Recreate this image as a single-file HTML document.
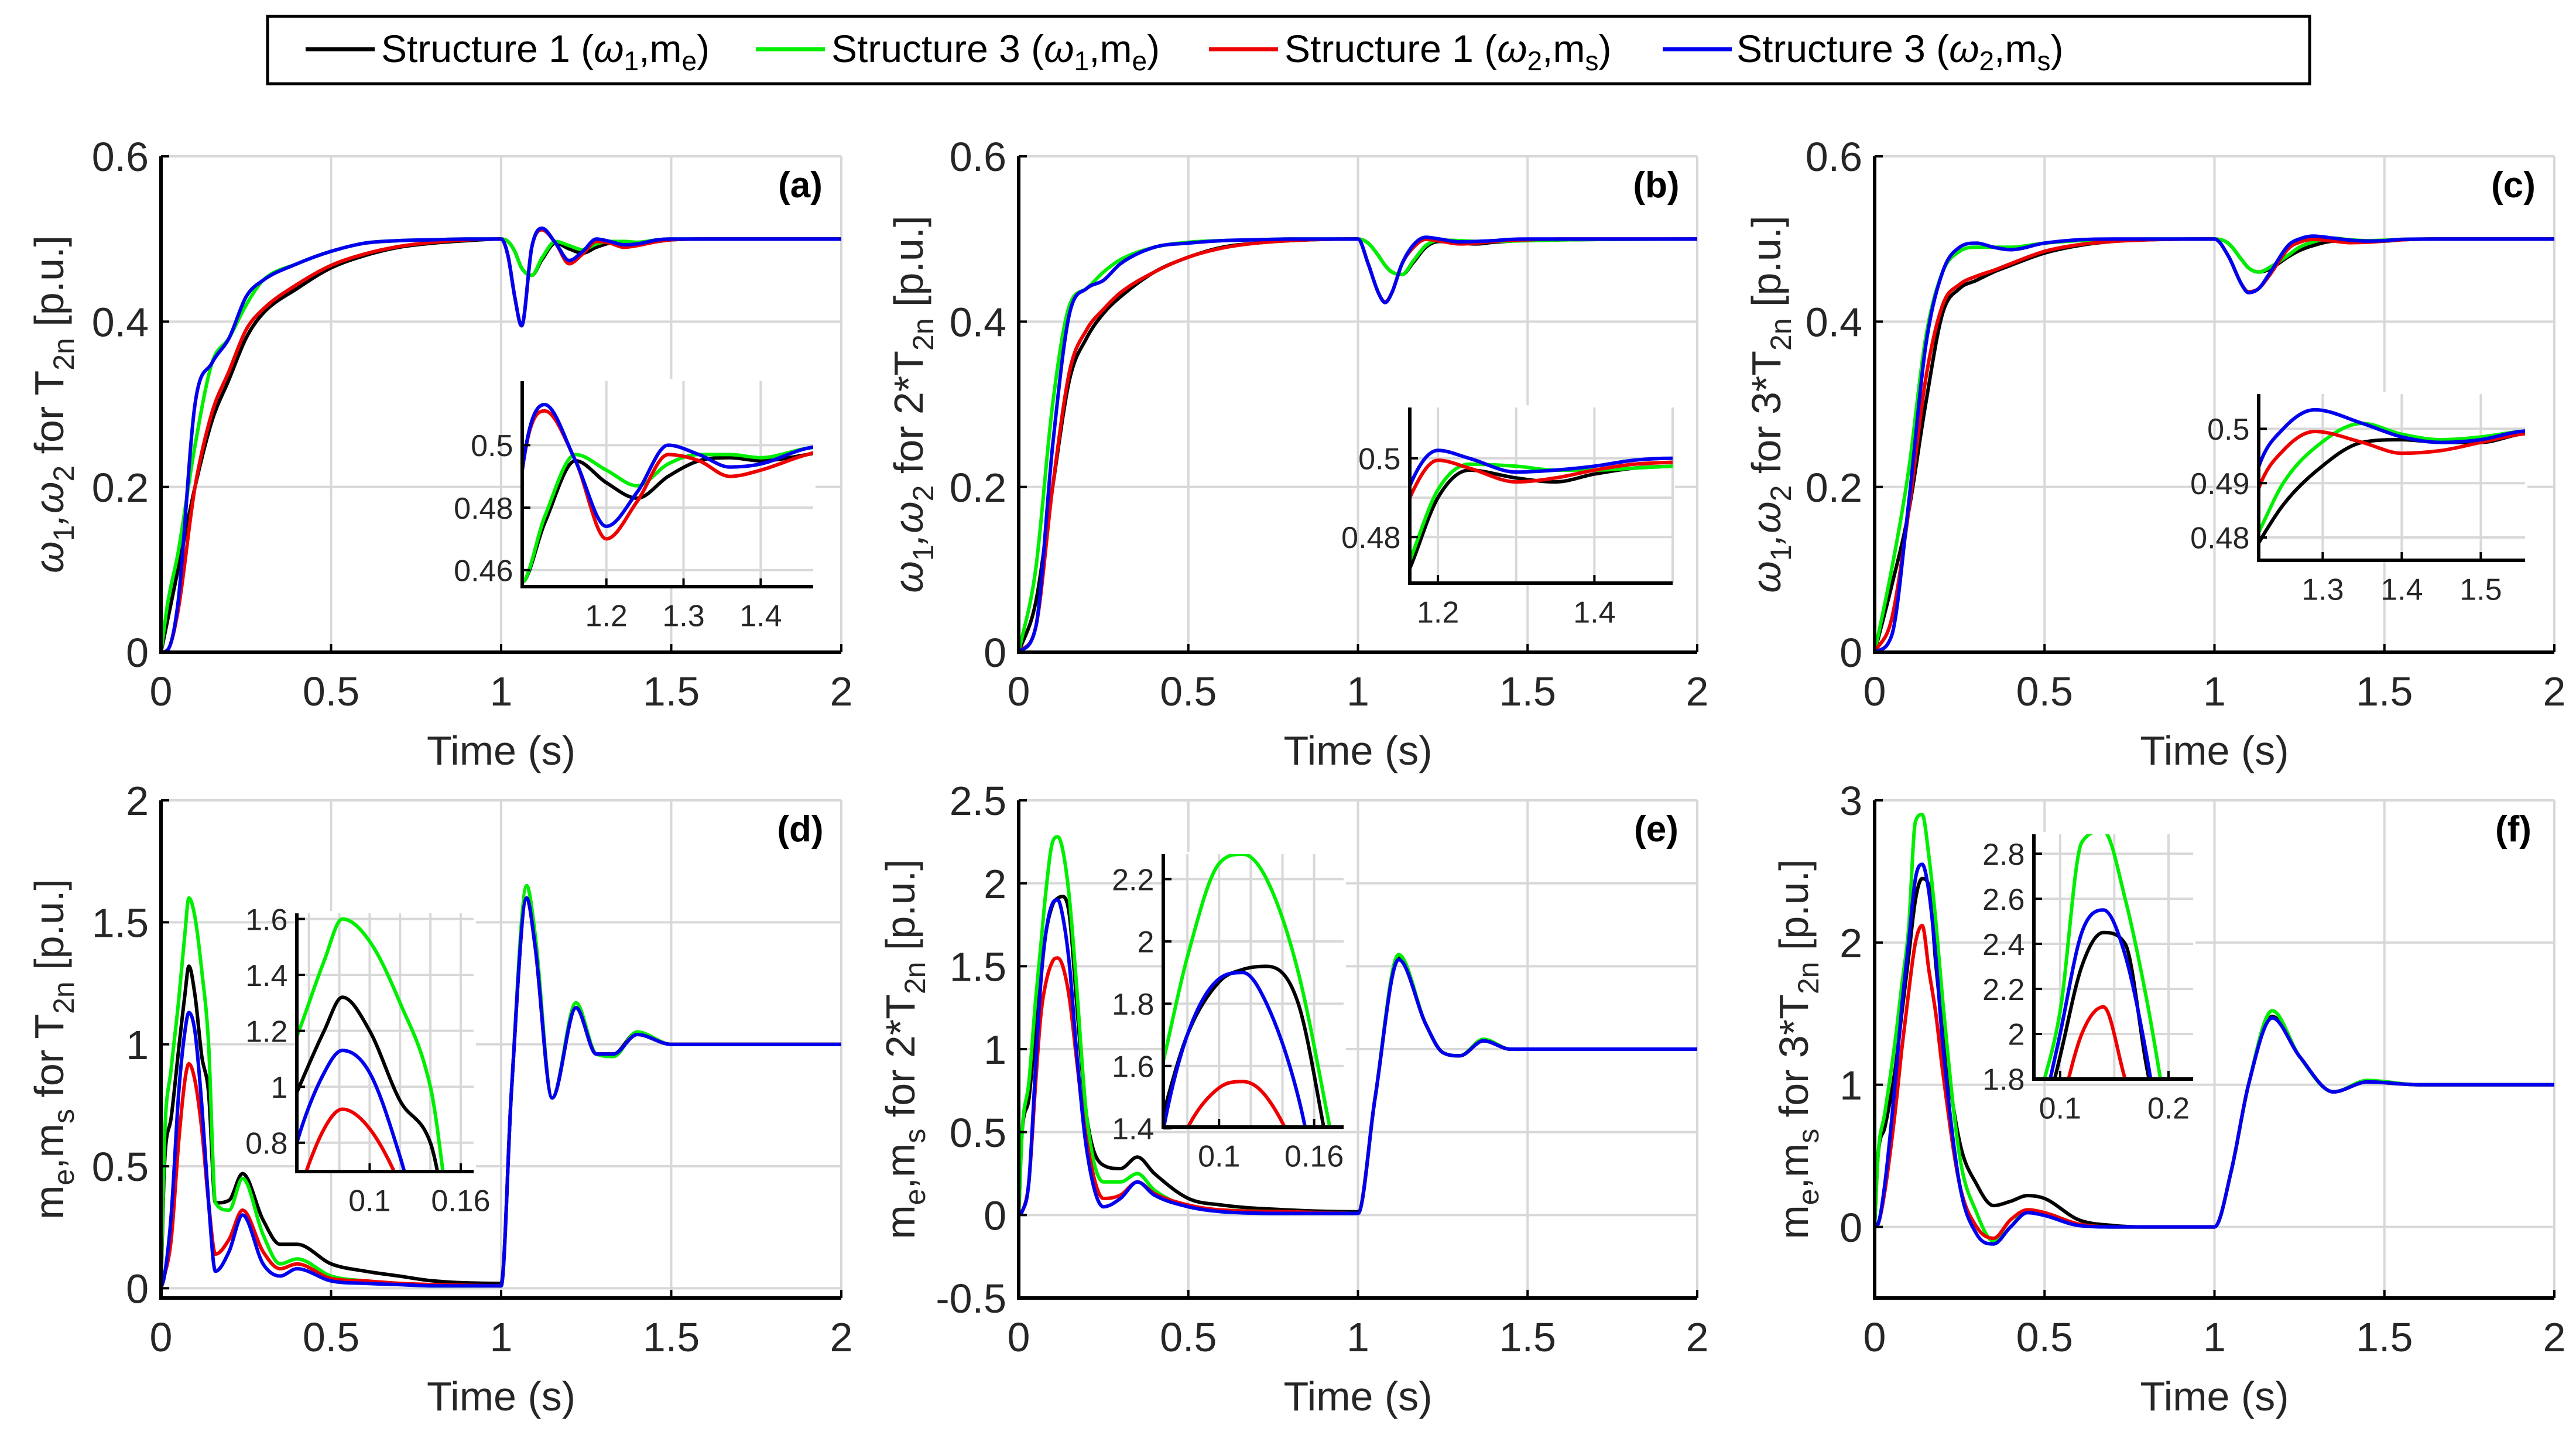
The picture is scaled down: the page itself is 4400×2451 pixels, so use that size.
<!DOCTYPE html>
<html><head><meta charset="utf-8"><style>
html,body{margin:0;padding:0;background:#fff;overflow:hidden;width:4400px;height:2451px;}
svg{display:block;font-family:"Liberation Sans",Arial,sans-serif;}
</style></head><body>
<svg id="fig" width="4400" height="2451" viewBox="0 0 4400 2451" overflow="hidden">
<g>
<rect x="457" y="28" width="3488" height="115" fill="#fff" stroke="#000" stroke-width="5"/>
<g><line x1="522" y1="84" x2="640" y2="84" stroke="#000" stroke-width="7"/><text x="651" y="106" font-size="66">Structure 1 (<tspan font-style="italic">ω</tspan><tspan font-size="46" dy="14">1</tspan><tspan dy="-14">,m</tspan><tspan font-size="46" dy="14">e</tspan><tspan dy="-14">)</tspan></text></g>
<g><line x1="1291" y1="84" x2="1409" y2="84" stroke="#00ee00" stroke-width="7"/><text x="1420" y="106" font-size="66">Structure 3 (<tspan font-style="italic">ω</tspan><tspan font-size="46" dy="14">1</tspan><tspan dy="-14">,m</tspan><tspan font-size="46" dy="14">e</tspan><tspan dy="-14">)</tspan></text></g>
<g><line x1="2065" y1="84" x2="2183" y2="84" stroke="#ee0000" stroke-width="7"/><text x="2194" y="106" font-size="66">Structure 1 (<tspan font-style="italic">ω</tspan><tspan font-size="46" dy="14">2</tspan><tspan dy="-14">,m</tspan><tspan font-size="46" dy="14">s</tspan><tspan dy="-14">)</tspan></text></g>
<g><line x1="2840" y1="84" x2="2958" y2="84" stroke="#0000ee" stroke-width="7"/><text x="2966" y="106" font-size="66">Structure 3 (<tspan font-style="italic">ω</tspan><tspan font-size="46" dy="14">2</tspan><tspan dy="-14">,m</tspan><tspan font-size="46" dy="14">s</tspan><tspan dy="-14">)</tspan></text></g>
</g>
</svg>
<script>
// ---- Panel (a) data ----
const a_t=[0,0.02,0.05,0.1,0.15,0.2,0.25,0.3,0.4,0.5,0.6,0.7,0.8,0.9,1.0,1.02,1.04,1.06,1.09,1.12,1.16,1.2,1.24,1.28,1.32,1.36,1.4,1.46,1.5,1.6,2.0];
const a_k=[0,0.04,0.1,0.2,0.28,0.33,0.38,0.41,0.44,0.465,0.48,0.49,0.495,0.498,0.5,0.497,0.485,0.465,0.456,0.475,0.495,0.488,0.483,0.49,0.495,0.496,0.495,0.497,0.499,0.5,0.5];
const a_g=[0,0.06,0.12,0.25,0.35,0.38,0.42,0.45,0.47,0.485,0.495,0.498,0.499,0.5,0.5,0.497,0.485,0.465,0.456,0.477,0.497,0.492,0.487,0.494,0.497,0.497,0.496,0.499,0.5,0.5,0.5];
const a_r=[0,0.003,0.05,0.2,0.29,0.34,0.39,0.415,0.445,0.468,0.482,0.491,0.496,0.499,0.5,0.48,0.43,0.395,0.49,0.511,0.495,0.47,0.482,0.497,0.495,0.49,0.492,0.497,0.499,0.5,0.5];
const a_b=[0,0.003,0.06,0.3,0.35,0.38,0.43,0.45,0.47,0.485,0.495,0.498,0.499,0.5,0.5,0.48,0.43,0.395,0.49,0.513,0.495,0.474,0.485,0.5,0.497,0.493,0.494,0.499,0.5,0.5,0.5];
// ---- Panel (b) data ----
const b_t=[0,0.05,0.1,0.15,0.2,0.25,0.3,0.4,0.5,0.6,0.7,0.8,1.0,1.03,1.06,1.08,1.1,1.13,1.164,1.2,1.24,1.3,1.35,1.4,1.45,1.5,1.6,2.0];
const b_k=[0,0.06,0.2,0.33,0.38,0.41,0.43,0.46,0.478,0.49,0.495,0.498,0.5,0.495,0.48,0.468,0.46,0.457,0.472,0.49,0.497,0.495,0.494,0.496,0.4975,0.498,0.499,0.5];
const b_g=[0,0.1,0.3,0.42,0.44,0.46,0.475,0.49,0.496,0.498,0.499,0.5,0.5,0.495,0.48,0.468,0.46,0.457,0.474,0.492,0.4985,0.498,0.497,0.497,0.4975,0.498,0.499,0.5];
const b_r=[0,0.03,0.2,0.34,0.39,0.415,0.435,0.46,0.478,0.489,0.495,0.498,0.5,0.47,0.435,0.424,0.435,0.47,0.49,0.4995,0.4975,0.494,0.495,0.497,0.4985,0.499,0.5,0.5];
const b_b=[0,0.03,0.25,0.41,0.44,0.45,0.47,0.49,0.495,0.498,0.499,0.5,0.5,0.47,0.435,0.423,0.435,0.47,0.493,0.502,0.5,0.4965,0.497,0.498,0.4995,0.5,0.5,0.5];
// ---- Panel (c) data ----
const c_t=[0,0.05,0.1,0.15,0.2,0.25,0.3,0.35,0.4,0.5,0.6,0.7,0.8,1.0,1.04,1.08,1.1,1.13,1.16,1.219,1.25,1.29,1.35,1.4,1.45,1.5,1.55,1.65,2.0];
const c_k=[0,0.08,0.17,0.3,0.41,0.44,0.45,0.46,0.468,0.483,0.492,0.497,0.499,0.5,0.495,0.475,0.465,0.46,0.463,0.479,0.486,0.492,0.4975,0.498,0.4975,0.4975,0.499,0.5,0.5];
const c_g=[0,0.1,0.22,0.38,0.46,0.485,0.49,0.49,0.49,0.495,0.498,0.499,0.5,0.5,0.495,0.475,0.465,0.46,0.465,0.481,0.49,0.4965,0.501,0.499,0.498,0.4985,0.4995,0.5,0.5];
const c_r=[0,0.04,0.17,0.33,0.42,0.445,0.455,0.462,0.47,0.485,0.493,0.497,0.499,0.5,0.48,0.445,0.436,0.44,0.455,0.489,0.496,0.4995,0.4975,0.4955,0.496,0.4975,0.499,0.5,0.5];
const c_b=[0,0.02,0.18,0.37,0.46,0.49,0.495,0.49,0.487,0.495,0.499,0.5,0.5,0.5,0.48,0.445,0.435,0.44,0.457,0.493,0.5,0.5035,0.501,0.4985,0.4975,0.498,0.4995,0.5,0.5];
// ---- Panel (d) data ----
const d_t=[0,0.01,0.03,0.052,0.07,0.082,0.1,0.12,0.14,0.16,0.2,0.24,0.3,0.35,0.4,0.5,0.6,0.7,0.8,1.0,1.03,1.075,1.1,1.15,1.22,1.28,1.33,1.4,1.5,2.0];
const d_k=[0,0.5,0.7,0.98,1.2,1.32,1.2,0.95,0.8,0.35,0.36,0.47,0.28,0.18,0.18,0.1,0.07,0.05,0.03,0.02,0.8,1.6,1.4,0.78,1.15,0.96,0.96,1.05,1.0,1.0];
const d_g=[0,0.6,0.9,1.18,1.45,1.6,1.52,1.3,1.0,0.35,0.32,0.45,0.22,0.1,0.12,0.05,0.03,0.02,0.01,0.01,0.8,1.65,1.45,0.78,1.17,0.96,0.95,1.05,1.0,1.0];
const d_r=[0,0.05,0.2,0.6,0.85,0.92,0.85,0.65,0.35,0.14,0.2,0.32,0.15,0.08,0.1,0.04,0.03,0.02,0.015,0.01,0.8,1.6,1.4,0.78,1.15,0.96,0.96,1.04,1.0,1.0];
const d_b=[0,0.05,0.3,0.8,1.05,1.13,1.05,0.75,0.35,0.07,0.15,0.3,0.1,0.05,0.08,0.03,0.02,0.015,0.01,0.01,0.8,1.6,1.4,0.78,1.15,0.96,0.96,1.04,1.0,1.0];
// ---- Panel (e) data ----
const e_t=[0,0.01,0.03,0.05,0.065,0.08,0.1,0.115,0.13,0.15,0.17,0.2,0.25,0.3,0.35,0.4,0.5,0.6,0.8,1.0,1.05,1.12,1.2,1.25,1.3,1.37,1.45,2.0];
const e_k=[0,0.5,0.7,1.15,1.45,1.7,1.87,1.91,1.92,1.8,1.3,0.6,0.3,0.28,0.35,0.25,0.1,0.06,0.03,0.02,0.7,1.55,1.15,0.98,0.96,1.05,1.0,1.0];
const e_g=[0,0.5,0.8,1.3,1.62,1.95,2.25,2.28,2.2,1.9,1.4,0.6,0.2,0.2,0.25,0.15,0.05,0.03,0.02,0.01,0.7,1.57,1.15,0.98,0.96,1.06,1.0,1.0];
const e_r=[0,0.02,0.2,0.8,1.2,1.4,1.53,1.55,1.5,1.3,0.95,0.45,0.1,0.12,0.2,0.13,0.06,0.03,0.02,0.01,0.7,1.54,1.15,0.98,0.96,1.05,1.0,1.0];
const e_b=[0,0.02,0.2,0.9,1.4,1.7,1.88,1.9,1.8,1.5,1.0,0.4,0.05,0.1,0.2,0.12,0.05,0.02,0.01,0.01,0.7,1.54,1.15,0.98,0.96,1.05,1.0,1.0];
// ---- Panel (f) data ----
const f_t=[0,0.01,0.03,0.06,0.08,0.1,0.12,0.14,0.16,0.18,0.2,0.25,0.3,0.35,0.4,0.45,0.5,0.6,0.7,0.8,1.0,1.05,1.1,1.17,1.25,1.35,1.45,1.6,2.0];
const f_k=[0,0.5,0.7,1.1,1.5,1.9,2.3,2.45,2.4,1.85,1.4,0.6,0.3,0.15,0.18,0.22,0.2,0.05,0.01,0,0,0.4,1.0,1.48,1.2,0.95,1.02,1.0,1.0];
const f_g=[0,0.5,0.8,1.3,1.7,2.1,2.85,2.9,2.6,2.15,1.6,0.5,0.1,-0.1,0.0,0.12,0.1,0.02,0,0,0,0.4,1.0,1.52,1.2,0.95,1.03,1.0,1.0];
const f_r=[0,0.02,0.25,0.8,1.25,1.65,2.0,2.12,1.8,1.5,1.1,0.3,0.0,-0.08,0.05,0.12,0.1,0.02,0,0,0,0.4,1.0,1.47,1.2,0.95,1.02,1.0,1.0];
const f_b=[0,0.02,0.3,1.0,1.55,2.0,2.45,2.55,2.35,1.9,1.3,0.3,-0.05,-0.12,0.0,0.1,0.08,0.01,0,0,0,0.4,1.0,1.47,1.2,0.95,1.02,1.0,1.0];
// ---- Tick labels ----
const xTicks=[0,0.5,1,1.5,2];
const yTicksTop=[0,0.2,0.4,0.6];
const yTicksD=[0,0.5,1,1.5,2];
const yTicksE=[-0.5,0,0.5,1,1.5,2,2.5];
const yTicksF=[0,1,2,3];

const NS='http://www.w3.org/2000/svg';
const svg=document.getElementById('fig');
const COLORS={k:'#000000',g:'#00ee00',r:'#ee0000',b:'#0000ee'};
const NAMES={k:'structure1-w1',g:'structure3-w1',r:'structure1-w2',b:'structure3-w2'};
function mk(tag,attrs,parent){const e=document.createElementNS(NS,tag);for(const k in attrs)e.setAttribute(k,attrs[k]);(parent||svg).appendChild(e);return e;}
function fmt(v){return String(v);}
function pathD(t,v,sx,sy){
  const X=t.map(sx),Y=v.map(sy),n=X.length;
  const dl=[],m=[];
  for(let i=0;i<n-1;i++)dl.push((Y[i+1]-Y[i])/(X[i+1]-X[i]));
  m[0]=dl[0];m[n-1]=dl[n-2];
  for(let i=1;i<n-1;i++){m[i]=(dl[i-1]*dl[i]<=0)?0:(dl[i-1]+dl[i])/2;}
  for(let i=0;i<n-1;i++){
    if(dl[i]===0){m[i]=0;m[i+1]=0;continue;}
    const a=m[i]/dl[i],b=m[i+1]/dl[i],s=a*a+b*b;
    if(s>9){const tt=3/Math.sqrt(s);m[i]=tt*a*dl[i];m[i+1]=tt*b*dl[i];}
  }
  let d='M'+X[0].toFixed(1)+','+Y[0].toFixed(1);
  for(let i=0;i<n-1;i++){
    const h=(X[i+1]-X[i])/3;
    d+=' C'+(X[i]+h).toFixed(1)+','+(Y[i]+m[i]*h).toFixed(1)+' '+(X[i+1]-h).toFixed(1)+','+(Y[i+1]-m[i+1]*h).toFixed(1)+' '+X[i+1].toFixed(1)+','+Y[i+1].toFixed(1);
  }
  return d;
}
let clipId=0;
function axes(o){
  const g=mk('g',{});
  
  
  const sx=x=>o.x0+(x-o.xmin)/(o.xmax-o.xmin)*(o.x1-o.x0);
  const sy=y=>o.y1-(y-o.ymin)/(o.ymax-o.ymin)*(o.y1-o.y0);
  if(o.bg){const r=mk('rect',{x:o.x0,y:o.y0-4,width:o.x1-o.x0+4,height:o.y1-o.y0+4,fill:'#fff'},g);}
  o.xgrid.forEach(x=>{const l=mk('line',{x1:sx(x),x2:sx(x),y1:o.y0,y2:o.y1,stroke:'#d8d8d8','stroke-width':4},g);});
  o.ygrid.forEach(y=>{const l=mk('line',{x1:o.x0,x2:o.x1,y1:sy(y),y2:sy(y),stroke:'#d8d8d8','stroke-width':4},g);});
  const cid='clip'+(clipId++);
  const cp=mk('clipPath',{id:cid},g);mk('rect',{x:o.x0,y:o.y0,width:o.x1-o.x0,height:o.y1-o.y0},cp);
  ['k','g','r','b'].forEach(s=>{
    const p=mk('path',{d:pathD(o.t,o.series[s],sx,sy),fill:'none',stroke:COLORS[s],'stroke-width':o.lw,'stroke-linejoin':'round','clip-path':'url(#'+cid+')'},g);
    
    
  });
  const ax=mk('path',{d:'M'+o.x0+','+o.y0+' L'+o.x0+','+o.y1+' L'+o.x1+','+o.y1,fill:'none',stroke:'#000','stroke-width':o.aw},g);
  
  
  o.xlab.forEach(x=>{
    mk('line',{x1:sx(x),x2:sx(x),y1:o.y1,y2:o.y1-14,stroke:'#000','stroke-width':4},g);
    const t=mk('text',{x:sx(x),y:o.y1+o.fs*1.3,'font-size':o.fs,'text-anchor':'middle',fill:'#262626'},g);t.textContent=fmt(x);
    
    
  });
  o.ylab.forEach(y=>{
    mk('line',{x1:o.x0,x2:o.x0+14,y1:sy(y),y2:sy(y),stroke:'#000','stroke-width':4},g);
    const t=mk('text',{x:o.x0-o.fs*0.3,y:sy(y)+o.fs*0.36,'font-size':o.fs,'text-anchor':'end',fill:'#262626'},g);t.textContent=fmt(y);
    
    
  });
  return g;
}
const TOP={y0:267,y1:1114},BOT={y0:1367,y1:2217};
const COLS=[{x0:275,x1:1437},{x0:1740,x1:2899},{x0:3202,x1:4363}];
const panels=[
 {id:'a',col:0,row:TOP,t:a_t,s:{k:a_k,g:a_g,r:a_r,b:a_b},ymin:0,ymax:0.6,yt:yTicksTop,lab:['ω','1',',ω','2',' for T','2n',' [p.u.]'],lx:84,
  ins:{x0:892,x1:1389,y0:651,y1:1002,xmin:1.091,xmax:1.468,ymin:0.4547,ymax:0.5205,xg:[1.2,1.3,1.4],xl:[1.2,1.3,1.4],yg:[0.46,0.48,0.5],yl:[0.46,0.48,0.5]}},
 {id:'b',col:1,row:TOP,t:b_t,s:{k:b_k,g:b_g,r:b_r,b:b_b},ymin:0,ymax:0.6,yt:yTicksTop,lab:['ω','1',',ω','2',' for 2*T','2n',' [p.u.]'],lx:1552,
  ins:{x0:2408,x1:2857,y0:696,y1:996,xmin:1.164,xmax:1.5,ymin:0.4683,ymax:0.5129,xg:[1.2,1.3,1.4,1.5],xl:[1.2,1.4],yg:[0.48,0.49,0.5],yl:[0.48,0.5]}},
 {id:'c',col:2,row:TOP,t:c_t,s:{k:c_k,g:c_g,r:c_r,b:c_b},ymin:0,ymax:0.6,yt:yTicksTop,lab:['ω','1',',ω','2',' for 3*T','2n',' [p.u.]'],lx:3017,
  ins:{x0:3858,x1:4313,y0:673,y1:957,xmin:1.219,xmax:1.556,ymin:0.4758,ymax:0.5064,xg:[1.3,1.4,1.5],xl:[1.3,1.4,1.5],yg:[0.48,0.49,0.5],yl:[0.48,0.49,0.5]}},
 {id:'d',col:0,row:BOT,t:d_t,s:{k:d_k,g:d_g,r:d_r,b:d_b},ymin:-0.04,ymax:2,yt:yTicksD,lab:['m','e',',m','s',' for T','2n',' [p.u.]'],lx:84,
  ins:{x0:507,x1:809,y0:1560,y1:2001,xmin:0.052,xmax:0.1685,ymin:0.697,ymax:1.62,xg:[0.06,0.08,0.1,0.12,0.14,0.16],xl:[0.1,0.16],yg:[0.8,1,1.2,1.4,1.6],yl:[0.8,1,1.2,1.4,1.6]}},
 {id:'e',col:1,row:BOT,t:e_t,s:{k:e_k,g:e_g,r:e_r,b:e_b},ymin:-0.5,ymax:2.5,yt:yTicksE,lab:['m','e',',m','s',' for 2*T','2n',' [p.u.]'],lx:1538,
  ins:{x0:1987,x1:2295,y0:1459,y1:1925,xmin:0.0648,xmax:0.1786,ymin:1.404,ymax:2.28,xg:[0.08,0.1,0.12,0.14,0.16],xl:[0.1,0.16],yg:[1.4,1.6,1.8,2,2.2],yl:[1.4,1.6,1.8,2,2.2]}},
 {id:'f',col:2,row:BOT,t:f_t,s:{k:f_k,g:f_g,r:f_r,b:f_b},ymin:-0.5,ymax:3,yt:yTicksF,lab:['m','e',',m','s',' for 3*T','2n',' [p.u.]'],lx:3064,
  ins:{x0:3474,x1:3746,y0:1425,y1:1843,xmin:0.0758,xmax:0.2227,ymin:1.8,ymax:2.886,xg:[0.1,0.15,0.2],xl:[0.1,0.2],yg:[1.8,2,2.2,2.4,2.6,2.8],yl:[1.8,2,2.2,2.4,2.6,2.8]}}
];
panels.forEach(p=>{
  const c=COLS[p.col];
  axes({x0:c.x0,x1:c.x1,y0:p.row.y0,y1:p.row.y1,xmin:0,xmax:2,ymin:p.ymin,ymax:p.ymax,xgrid:xTicks,ygrid:p.yt,xlab:xTicks,ylab:p.yt,fs:70,name:'panel-'+p.id,t:p.t,series:p.s,lw:6,aw:6});
  const n=p.ins;
  axes({x0:n.x0,x1:n.x1,y0:n.y0,y1:n.y1,xmin:n.xmin,xmax:n.xmax,ymin:n.ymin,ymax:n.ymax,xgrid:n.xg,ygrid:n.yg,xlab:n.xl,ylab:n.yl,fs:52,name:'panel-'+p.id+'-inset',t:p.t,series:p.s,lw:6,aw:6,bg:true});
  const tl=mk('text',{x:c.x1-70,y:p.row.y0+70,'font-size':62,'font-weight':'bold','text-anchor':'middle'});
  tl.textContent='('+p.id+')';
  
  
  const xt=mk('text',{x:(c.x0+c.x1)/2,y:p.row.y1+192,'font-size':70,'text-anchor':'middle',fill:'#262626'});
  xt.textContent='Time (s)';
  
  
  const cy=(p.row.y0+p.row.y1)/2;
  const yt=mk('text',{x:0,y:0,'font-size':70,'text-anchor':'middle',fill:'#262626',transform:'translate('+(p.lx+24)+','+cy+') rotate(-90)'});
  
  
  p.lab.forEach((s,i)=>{const ts=mk('tspan',{},yt);ts.textContent=s;
    if(i%2===1){ts.setAttribute('font-size','50');ts.setAttribute('dy','18');}
    else if(i>0){ts.setAttribute('dy','-18');}
    if(s==='ω'||s===',ω'){ts.setAttribute('font-style','italic');}
  });
});
</script>
</body></html>
